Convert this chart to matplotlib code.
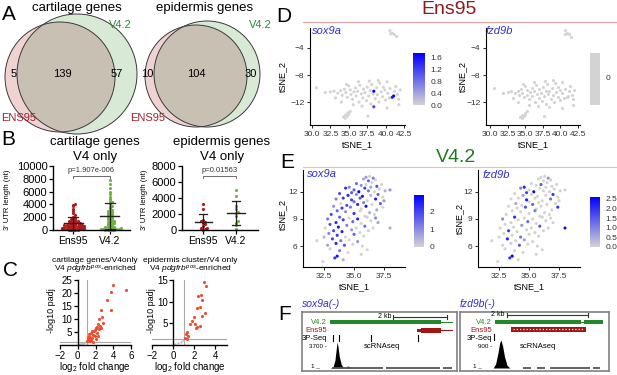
import numpy as np
import matplotlib
matplotlib.use('Agg')
import matplotlib.pyplot as plt
from matplotlib.patches import Circle, Rectangle
from matplotlib.colors import LinearSegmentedColormap

plt.rcParams['font.family'] = ['Liberation Sans', 'DejaVu Sans']
plt.rcParams['mathtext.fontset'] = 'custom'
plt.rcParams['mathtext.rm'] = 'Liberation Sans'
plt.rcParams['mathtext.it'] = 'Liberation Sans:italic'

# ---------------- data ----------------
# A: venn counts (Ens95 only, shared, V4.2 only)
venn_cart = [5, 139, 57]
venn_epi = [10, 104, 30]

# B: 3' UTR length (nt) of V4-only genes
cart_ens95 = [4100, 3900, 3700, 3300, 2900, 2600, 2300, 2100, 1900, 1800,
              1700, 1600, 1500, 1450, 1400, 1300, 1250, 1200, 1150, 1100,
              1050, 1000, 950, 900, 850, 800, 780, 750, 700, 680,
              650, 620, 600, 560, 520, 500, 470, 440, 400, 380,
              350, 320, 300, 270, 250, 220, 200, 180, 150, 120,
              100, 80, 60, 40, 30, 20, 10]
cart_v42 = [7800, 7200, 6600, 6000, 5600, 5200, 4900, 4600, 4400, 4200,
            4000, 3800, 3600, 3400, 3200, 3000, 2900, 2800, 2700, 2600,
            2500, 2400, 2300, 2200, 2100, 2000, 1900, 1800, 1700, 1600,
            1500, 1400, 1300, 1200, 1100, 1000, 900, 800, 700, 600,
            500, 450, 400, 350, 300, 250, 200, 150, 100, 80,
            60, 40, 20, 10, 5, 900, 1300]
epi_ens95 = [3200, 2600, 1300, 1100, 1000, 900, 700, 500, 300, 200, 100, 50]
epi_v42 = [5000, 4300, 3000, 2600, 2300, 2100, 1700, 1100, 900, 600, 100]
pval_cart = "p=1.907e-006"
pval_epi = "p=0.01563"

# C: volcano, V4 pdgfrb-pos enriched
cart_lfc = [5.4, 4.0, 3.7, 3.3, 3.7, 2.6, 2.7, 2.4, 2.9, 2.3,
            2.5, 2.2, 2.0, 2.1, 2.4, 1.9, 2.6, 1.6, 1.8, 2.2,
            1.5, 1.7, 1.3, 1.9, 1.4, 1.2, 1.6, 1.1, 2.0, 1.3,
            1.5, 1.0, 1.2, 1.4, 1.1, 1.7, 2.3]
cart_padj = [21.3, 23.1, 20.2, 17.2, 13.6, 13.5, 10.6, 9.9, 8.6, 8.2,
             7.2, 7.0, 6.6, 6.4, 6.0, 5.9, 6.7, 5.5, 5.2, 4.8,
             4.6, 4.0, 4.4, 3.6, 3.2, 3.0, 2.8, 2.5, 2.2, 2.0,
             1.8, 1.7, 1.5, 1.4, 2.6, 1.1, 3.3]
cart_ns_lfc = [0.1, 0.25, 0.4, 0.55, 0.7, 0.85]
cart_ns_padj = [0.1, 0.3, 0.5, 0.7, 0.9, 1.1]
epi_lfc = [2.95, 3.15, 2.6, 2.35, 2.7, 2.5, 2.25, 3.0, 2.0, 2.75,
           1.75, 1.55, 2.05, 2.3, 2.5, 1.35, 1.25, 1.4, 1.15, 1.3, 2.2]
epi_padj = [14.6, 13.6, 11.5, 11.2, 10.4, 8.8, 8.5, 7.4, 6.5, 6.6,
            5.5, 4.9, 4.8, 4.2, 4.5, 2.9, 2.6, 2.0, 1.6, 1.3, 3.9]
epi_ns_lfc = [0.2, 0.45, 0.7, 0.9]
epi_ns_padj = [0.2, 0.5, 0.8, 1.1]

# D: Ens95 tSNE
d_tsne1 = [30.6, 31.8, 32.5, 33.0,
           40.6, 40.9, 41.2, 41.5, 40.7,
           34.3, 34.6, 34.9, 35.2, 34.5, 34.8, 35.0,
           37.6, 41.8, 40.2,
           33.5, 33.9, 34.1, 34.4, 34.6, 34.8, 35.0, 35.2, 35.3, 35.5,
           35.7, 35.9, 36.0, 36.2, 36.4, 36.5, 36.7, 36.9, 37.0, 37.2,
           37.4, 37.5, 37.7, 37.9, 38.0, 38.1, 38.3, 38.6, 38.8, 38.9,
           39.1, 39.2, 39.4, 39.6, 39.7, 39.9, 40.0, 40.2, 40.3, 40.5,
           40.6, 41.2, 41.4, 41.6, 41.8, 42.0, 33.2, 34.0, 35.6, 36.8,
           37.8, 39.0, 36.3, 34.7,
           38.4, 40.9, 41.1, 38.4]
d_tsne2 = [-9.9, -10.6, -10.5, -10.4,
           -1.4, -1.8, -2.0, -2.3, -1.9,
           -14.2, -13.9, -13.6, -13.4, -14.4, -14.1, -13.8,
           -14.1, -12.4, -12.9,
           -10.7, -10.3, -11.0, -10.1, -10.6, -11.3, -9.6, -10.2, -10.9, -11.6,
           -10.5, -9.9, -11.1, -10.4, -12.0, -9.5, -10.8, -11.4, -10.1, -10.6,
           -11.8, -9.8, -11.1, -10.3, -12.3, -9.4, -10.8, -11.5, -9.9, -10.9,
           -12.0, -9.2, -10.5, -11.2, -9.8, -10.2, -11.7, -9.0, -10.7, -11.4,
           -10.0, -10.4, -9.7, -10.9, -11.6, -10.2, -11.4, -12.0, -12.4, -12.6,
           -8.9, -8.8, -9.0, -9.4,
           -10.4, -11.3, -11.1, -12.7]
d_sox9a = [0, 0, 0, 0,
           0, 0, 0, 0, 0,
           0, 0, 0, 0, 0, 0, 0,
           0, 0, 0,
           0, 0, 0, 0, 0, 0, 0, 0, 0, 0,
           0, 0, 0, 0, 0, 0, 0, 0, 0, 0,
           0, 0, 0, 0, 0, 0, 0, 0, 0, 0,
           0, 0, 0, 0, 0, 0, 0, 0, 0, 0,
           0, 0, 0, 0, 0, 0, 0, 0, 0, 0,
           0, 0, 0, 0,
           1.75, 1.5, 1.7, 1.2]
d_fzd9b_max = 0

# E: V4.2 tSNE
e_tsne1 = [36.0, 36.3, 36.6, 36.8, 36.2, 35.8, 36.5,
           35.2, 35.6, 36.0, 36.9, 37.3, 34.6, 35.9, 36.4, 37.1,
           34.3, 35.0, 35.4, 36.2, 36.7, 37.6, 38.0, 34.8,
           33.8, 34.5, 35.2, 35.7, 36.4, 37.0, 37.4, 34.1,
           33.5, 34.8, 35.5, 36.1, 36.8, 37.5, 35.0,
           33.9, 34.4, 35.3, 35.8, 36.5, 37.2, 33.3,
           34.0, 34.7, 35.6, 36.0, 36.9, 37.4, 33.6,
           34.3, 35.0, 35.5, 36.3, 36.7, 33.1, 35.9,
           33.8, 34.6, 35.3, 36.1, 36.8, 32.8, 34.1,
           33.5, 34.9, 35.6, 36.4, 37.0, 33.0,
           33.7, 34.4, 35.2, 35.9, 36.6, 38.0, 32.6,
           33.3, 34.0, 34.8, 35.5, 36.2, 32.9,
           33.6, 34.3, 35.0, 35.8, 32.5,
           33.2, 33.9, 34.6, 35.3, 31.9,
           33.5, 34.2, 34.9, 35.7, 32.8,
           33.0, 33.8, 34.5, 35.6, 36.1, 33.6, 33.4, 32.4, 34.1]
e_tsne2 = [13.6, 13.7, 13.5, 13.3, 13.2, 13.4, 13.0,
           12.9, 12.7, 12.8, 12.6, 12.8, 12.5, 12.4, 12.5, 12.3,
           12.4, 12.2, 12.0, 12.1, 12.0, 12.1, 12.2, 11.9,
           11.8, 11.6, 11.7, 11.5, 11.6, 11.7, 11.4, 11.3,
           11.2, 11.1, 11.3, 11.0, 11.2, 11.0, 10.9,
           10.7, 10.5, 10.6, 10.8, 10.6, 10.7, 10.4,
           10.2, 10.3, 10.1, 10.4, 10.0, 10.3, 9.9,
           9.8, 9.6, 9.9, 9.7, 9.5, 9.5, 9.3,
           9.2, 9.1, 9.0, 9.2, 9.1, 9.0, 8.9,
           8.6, 8.7, 8.5, 8.8, 8.6, 8.4,
           8.1, 8.3, 8.0, 8.2, 8.0, 8.0, 8.0,
           7.7, 7.6, 7.8, 7.5, 7.7, 7.4,
           7.2, 7.0, 7.3, 7.1, 7.0,
           6.8, 6.6, 6.7, 6.5, 6.6,
           6.3, 6.1, 6.2, 6.0, 6.1,
           5.7, 5.5, 5.3, 5.1, 5.6, 4.9, 4.7, 4.3, 4.5]
e_sox9a = [0.8, 0, 1.2, 0, 1.5, 0.6, 0,
           1.4, 0.9, 0, 1.8, 0, 1.1, 2.0, 0.7, 0,
           2.2, 1.6, 2.9, 1.3, 0, 0.5, 0.9, 1.7,
           1.9, 2.4, 1.0, 2.6, 0.4, 1.5, 0, 2.1,
           1.2, 2.0, 1.7, 0, 2.5, 0.8, 1.4,
           0, 1.8, 2.3, 1.1, 0, 1.6, 0.9,
           2.1, 1.3, 0, 2.7, 0.6, 0, 1.5,
           1.0, 2.2, 0, 0.5, 0, 1.9, 0,
           1.6, 0, 2.4, 0, 1.1, 1.3, 2.0,
           2.3, 1.5, 0, 0, 0.7, 1.8,
           2.6, 1.2, 0, 1.4, 0, 0.6, 0,
           1.9, 2.5, 0.8, 0, 0, 1.1,
           2.2, 0, 1.6, 0, 0.4,
           2.0, 1.3, 0, 0.9, 0,
           2.4, 1.8, 0, 0, 0.7,
           0, 1.2, 0, 0, 0, 2.6, 2.2, 0, 0.5]
e_fzd9b = [0, 0, 0.8, 0, 0, 0, 0,
           0, 0, 1.5, 0, 0, 2.2, 0, 0, 0,
           1.0, 0, 2.5, 0, 0, 0, 0, 1.8,
           0, 0.7, 0, 0, 0, 1.9, 0, 0,
           0, 2.3, 0, 0, 1.2, 0, 0,
           0.6, 0, 1.4, 0, 0, 0, 0,
           0, 1.7, 0, 0, 0, 2.0, 0,
           0, 0, 1.1, 0, 0, 0, 0,
           2.1, 0, 0, 0, 0, 0.9, 0,
           0, 1.3, 0, 0, 0, 0,
           0, 0.8, 0, 1.6, 0, 2.4, 0,
           1.9, 0, 0, 0, 0, 0,
           0, 1.2, 0, 0, 0,
           2.2, 0, 0.7, 0, 0,
           0, 1.5, 0, 0, 0,
           0, 0, 0, 0, 0, 2.6, 2.0, 0, 0]

# F: gene models (kb from left of window)
sox9a_scale = [3.37, 5.37]
sox9a_v42 = [1.04, 5.15]
sox9a_v42_tail = [5.15, 5.56]
sox9a_ens = [4.4, 5.15]
sox9a_ens_utr = [4.26, 4.4]
sox9a_ens_tail = [5.15, 5.56]
sox9a_3pseq = [1.15, 1.37, 2.56, 4.3]
sox9a_cov_pos = [1.05, 1.15, 1.22, 1.27, 1.30, 1.33, 1.38, 1.45, 1.52, 1.6, 1.66, 1.7, 1.74, 1.8]
sox9a_cov = [0, 0.05, 0.3, 0.75, 1.0, 0.85, 0.45, 0.15, 0.03, 0, 0.06, 0.08, 0.05, 0]
sox9a_base = [(1.1, 3.0), (3.11, 5.11), (5.22, 5.56)]
fzd9b_scale = [1.16, 3.16]
fzd9b_v42 = [(0.86, 2.99), (3.06, 3.53)]
fzd9b_ens = [1.26, 3.11]
fzd9b_3pseq = [0.84]
fzd9b_cov_pos = [0.82, 0.88, 0.94, 0.98, 1.01, 1.05, 1.1, 1.16, 1.23]
fzd9b_cov = [0, 0.15, 0.55, 0.9, 1.0, 0.8, 0.4, 0.1, 0]
fzd9b_base = [(1.56, 1.75), (1.9, 2.1), (2.22, 3.21), (3.28, 3.46)]

# ---------------- figure ----------------
W, H = 617, 375
fig = plt.figure(figsize=(W / 100, H / 100), dpi=100)


def px_axes(x0, y0, x1, y1):
    return fig.add_axes([x0 / W, 1 - y1 / H, (x1 - x0) / W, (y1 - y0) / H])


def ftext(x, y, s, **kw):
    kw.setdefault('ha', 'center')
    kw.setdefault('va', 'center')
    fig.text(x / W, 1 - y / H, s, **kw)


RED = '#a3202a'
GREEN = '#2e8b2e'
BLUE = '#2f2fd6'

# panel letters
for lab, x, y in [('A', 9, 15), ('B', 8, 140), ('C', 11, 271),
                  ('D', 284, 17), ('E', 287, 163), ('F', 285, 314)]:
    ftext(x, y, lab, fontsize=15)


# ---- A: venn ----
def venn(x0, counts, pink_c, pink_r, green_c, green_r, numx, title, title_x, v4xy, ensxy):
    ax = px_axes(x0, 0, x0 + 145, 140)
    ax.set_xlim(x0, x0 + 145)
    ax.set_ylim(140, 0)
    ax.axis('off')
    pink = Circle(pink_c, pink_r, fc='#efd3d3', ec='none')
    green = Circle(green_c, green_r, fc='#d8e9d6', ec='none')
    ax.add_patch(pink)
    ax.add_patch(green)
    inter = Circle(pink_c, pink_r, fc='#c9c0b4', ec='none')
    ax.add_patch(inter)
    inter.set_clip_path(green)
    for c, r in [(pink_c, pink_r), (green_c, green_r)]:
        ax.add_patch(Circle(c, r, fc='none', ec='#3a3a3a', lw=0.7))
    for n, x in zip(counts, numx):
        ax.text(x, 74, str(n), ha='center', va='center', fontsize=8)
    ax.text(v4xy[0], v4xy[1], 'V4.2', color=GREEN, fontsize=8, ha='center', va='center')
    ax.text(ensxy[0], ensxy[1], 'ENS95', color=RED, fontsize=8, ha='center', va='center')
    ftext(title_x, 8, title, fontsize=9.5)


venn(0, venn_cart, (60, 77), 55, (77, 74), 60, [14, 62, 117], 'cartilage genes', 77, (120, 25), (19, 118))
venn(140, venn_epi, (196, 76), 51, (207, 74), 53, [147, 196, 251], 'epidermis genes', 205, (260, 25), (148, 118))


# ---- B: 3'UTR dot plots ----
def swarm_x(vals, center, binw, step=0.06, maxw=0.3):
    vals = np.asarray(vals, float)
    xs = np.zeros(len(vals))
    counts = {}
    for i in np.argsort(vals):
        b = int(vals[i] // binw)
        k = counts.get(b, 0)
        counts[b] = k + 1
        off = ((k + 1) // 2) * step * (1 if k % 2 else -1)
        xs[i] = center + np.clip(off, -maxw, maxw)
    return xs


def dotplot(rect, groups, ymax, yticks, binw, pval, title, title_x, xlim):
    ax = px_axes(*rect)
    colors = ['#b3191c', '#6db33f']
    for i, vals in enumerate(groups):
        v = np.asarray(vals, float)
        ax.scatter(swarm_x(v, i, binw), v, s=5, color=colors[i], lw=0, clip_on=False, zorder=2)
        m, sd = v.mean(), v.std(ddof=1)
        ax.plot([i - 0.26, i + 0.26], [m, m], color='#222222', lw=1, zorder=3)
        ax.plot([i, i], [max(m - sd, 0), m + sd], color='#222222', lw=0.9, zorder=3)
        ax.plot([i - 0.13, i + 0.13], [m + sd, m + sd], color='#222222', lw=0.9, zorder=3)
        if m - sd > 0:
            ax.plot([i - 0.13, i + 0.13], [m - sd, m - sd], color='#222222', lw=0.9, zorder=3)
    ax.set_xlim(*xlim)
    ax.set_ylim(0, ymax)
    ax.set_yticks(yticks)
    ax.set_xticks([0, 1])
    ax.set_xticklabels(['Ens95', 'V4.2'], fontsize=7.5)
    ax.tick_params(axis='y', labelsize=8, length=3, width=0.9, pad=1)
    ax.tick_params(axis='x', length=3, width=0.9, pad=1)
    for s in ['top', 'right']:
        ax.spines[s].set_visible(False)
    for s in ['left', 'bottom']:
        ax.spines[s].set_linewidth(1)
    yb = ymax * 0.845
    ax.plot([0, 0, 1, 1], [yb - ymax * 0.03, yb, yb, yb - ymax * 0.03], color='#555555', lw=0.6, clip_on=False)
    ax.text(0.5, ymax * 0.935, pval, ha='center', va='center', fontsize=5.5, color='#333333', clip_on=False)
    ftext(title_x, 142, title, fontsize=9.5)
    ftext(title_x, 157, 'V4 only', fontsize=9.5)
    return ax


dotplot((53, 166, 130, 230), [cart_ens95, cart_v42], 10000,
        [0, 2000, 4000, 6000, 8000, 10000], 300, pval_cart, 'cartilage genes', 95, (-0.55, 1.55))
dotplot((182, 166, 258, 230), [epi_ens95, epi_v42], 8000,
        [0, 2000, 4000, 6000, 8000], 400, pval_epi, 'epidermis genes', 222, (-0.64, 1.67))
ftext(8, 200, "3' UTR length (nt)", fontsize=5.5, rotation=90)
ftext(144, 200, "3' UTR length (nt)", fontsize=5.5, rotation=90)


# ---- C: volcano ----
def volcano(rect, lfc, padj, ns_lfc, ns_padj, xlim, ylim, xticks, yticks, t1, tx, ylx):
    ax = px_axes(*rect)
    ax.axhline(-np.log10(0.05), color='#a8a8a8', lw=0.8, zorder=1)
    ax.axvline(1, color='#a8a8a8', lw=0.8, zorder=1)
    ax.scatter(ns_lfc, ns_padj, s=3, color='#c0c0c0', lw=0, clip_on=False, zorder=2)
    ax.scatter(lfc, padj, s=5, color='#f04b2c', lw=0, clip_on=False, zorder=3)
    ax.set_xlim(*xlim)
    ax.set_ylim(*ylim)
    ax.set_xticks(xticks)
    ax.set_yticks(yticks)
    ax.spines['left'].set_position(('data', 0))
    for s in ['top', 'right']:
        ax.spines[s].set_visible(False)
    for s in ['left', 'bottom']:
        ax.spines[s].set_linewidth(1)
    ax.tick_params(labelsize=7, length=3, width=0.9, pad=1)
    ftext(tx, 260, t1, fontsize=6)
    ftext(tx, 270, r'V4 $\it{pdgfrb}^{pos}$-enriched', fontsize=6)
    ftext(tx, 367, r'log$_2$ fold change', fontsize=7)
    ftext(ylx, 311, '-log10 padj', fontsize=6.5, rotation=90)


volcano((60, 280, 131, 345), cart_lfc, cart_padj, cart_ns_lfc, cart_ns_padj,
        (-2, 6), (0, 25), [-2, 0, 2, 4, 6], [5, 10, 15, 20, 25], 'cartilage genes/V4only', 95, 52)
volcano((152, 280, 227, 345), epi_lfc, epi_padj, epi_ns_lfc, epi_ns_padj,
        (-2, 5.1), (0, 15), [-2, 0, 2, 4], [5, 10, 15], 'epidermis cluster/V4 only', 190, 151)

# ---- D / E: tSNE feature plots ----
feat_cmap = LinearSegmentedColormap.from_list('feat', ['#d3d3d3', '#0000ff'])


def tsne_ax(rect, xlim, ylim, xticks, yticks):
    ax = px_axes(*rect)
    ax.set_xlim(*xlim)
    ax.set_ylim(*ylim)
    ax.set_xticks(xticks)
    ax.set_xticklabels(['{:.1f}'.format(t) for t in xticks])
    ax.set_yticks(yticks)
    for s in ['top', 'right']:
        ax.spines[s].set_visible(False)
    for s in ['left', 'bottom']:
        ax.spines[s].set_linewidth(0.8)
    ax.tick_params(labelsize=6, length=2.5, width=0.6, pad=1.5, labelcolor='#333333')
    return ax


def feature(ax, x, y, vals, vmax):
    x, y, v = np.asarray(x), np.asarray(y), np.asarray(vals, float)
    o = np.argsort(v, kind='stable')
    return ax.scatter(x[o], y[o], c=v[o], cmap=feat_cmap, vmin=0, vmax=vmax, s=5, lw=0)


def cbar(sc, rect, ticks, labels):
    cax = px_axes(*rect)
    cb = fig.colorbar(sc, cax=cax)
    cb.outline.set_visible(False)
    cb.set_ticks(ticks)
    cb.set_ticklabels(labels)
    cax.tick_params(length=0, labelsize=6, pad=4, labelcolor='#333333')


# headers
ftext(449, 10, 'Ens95', fontsize=14, color='#8e1b1b')
fig.add_artist(plt.Line2D([303 / W, 1], [1 - 22 / H, 1 - 22 / H], color='#dba3a3', lw=0.8))
ftext(456, 157, 'V4.2', fontsize=14, color='#1f7a1f')
fig.add_artist(plt.Line2D([303 / W, 1], [1 - 167 / H, 1 - 167 / H], color='#b8d9b4', lw=0.8))

d_xt = [30.0, 32.5, 35.0, 37.5, 40.0, 42.5]
axd1 = tsne_ax((310, 28, 405, 125), (29.73, 42.64), (-15.4, -1.04), d_xt, [-12, -8, -4])
sc = feature(axd1, d_tsne1, d_tsne2, d_sox9a, max(d_sox9a))
cbar(sc, (413, 53, 425, 105), [0, 0.4, 0.8, 1.2, 1.6], ['0.0', '0.4', '0.8', '1.2', '1.6'])
axd2 = tsne_ax((486, 28, 580, 125), (29.4, 42.8), (-15.4, -1.04), d_xt, [-12, -8, -4])
axd2.scatter(d_tsne1, d_tsne2, s=5, lw=0, color='#d3d3d3')
cax = px_axes(590, 53, 600, 105)
cax.set_facecolor('#d3d3d3')
cax.set_xticks([])
cax.set_yticks([])
for s in cax.spines.values():
    s.set_visible(False)
ftext(608, 79, str(d_fzd9b_max), fontsize=6, color='#333333')

e_xt = [32.5, 35.0, 37.5]
axe1 = tsne_ax((303, 170, 405, 267), (30.75, 39.25), (3.7, 14.4), e_xt, [6, 9, 12])
sc = feature(axe1, e_tsne1, e_tsne2, e_sox9a, max(e_sox9a))
cbar(sc, (414, 195, 424, 247), [0, 1, 2], ['0', '1', '2'])
axe2 = tsne_ax((478, 170, 580, 267), (30.75, 39.25), (3.7, 14.4), e_xt, [6, 9, 12])
sc = feature(axe2, e_tsne1, e_tsne2, e_fzd9b, max(e_fzd9b))
cbar(sc, (590, 197, 600, 247), [0, 0.5, 1.0, 1.5, 2.0, 2.5], ['0.0', '0.5', '1.0', '1.5', '2.0', '2.5'])

for x, y in [(357, 145), (533, 145), (354, 287), (529, 287)]:
    ftext(x, y, 'tSNE_1', fontsize=6.5)
for x, y in [(283, 76), (463, 76), (283, 215), (460, 218)]:
    ftext(x, y, 'tSNE_2', fontsize=6.5, rotation=90)
for x, y, g in [(312, 31, 'sox9a'), (486, 31, 'fzd9b'), (307, 174, 'sox9a'), (483, 175, 'fzd9b')]:
    ftext(x, y, g, fontsize=8, style='italic', color=BLUE, ha='left')

# ---- F: gene tracks ----
GR = '#22882a'
RD = '#a31515'


def track_box(rect, width_kb):
    ax = px_axes(*rect)
    ax.set_xlim(0, width_kb)
    ax.set_ylim(59, 0)
    ax.set_xticks([])
    ax.set_yticks([])
    for s in ax.spines.values():
        s.set_color('#808080')
        s.set_linewidth(1.2)
    return ax


def common(ax, scale, sy, labx, cov_pos, cov, base, top, cov_label, scx):
    ax.plot(scale, [sy, sy], color='#333333', lw=0.8)
    for x in scale:
        ax.plot([x, x], [sy - 2, sy + 2], color='#333333', lw=0.8)
    ax.text(scale[0] - 0.06, sy, '2 kb', ha='right', va='center', fontsize=5)
    ax.text(labx, 10, 'V4.2', ha='right', va='center', fontsize=5.5, color=GR)
    ax.text(labx, 18, 'Ens95', ha='right', va='center', fontsize=5.5, color=RD)
    ax.text(labx, 26, '3P-Seq', ha='right', va='center', fontsize=5.5)
    ax.text(labx, 35, cov_label + ' -', ha='right', va='center', fontsize=4.5)
    ax.text(labx * 0.55, 54, '1 _', ha='center', va='center', fontsize=4.5)
    ax.text(scx, 35, 'scRNAseq', ha='center', va='center', fontsize=5.5)
    y = 56 - np.asarray(cov) * (56 - top)
    ax.fill_between(cov_pos, 56, y, color='black', lw=0)
    for a, b in base:
        ax.plot([a, b], [56.3, 56.3], color='#555555', lw=1.3, solid_capstyle='butt')


fl = track_box((302, 312, 457, 371), 5.74)
common(fl, sox9a_scale, 5, 0.93, sox9a_cov_pos, sox9a_cov, sox9a_base, 30, '3700', 2.96)
fl.add_patch(Rectangle((sox9a_v42[0], 8), sox9a_v42[1] - sox9a_v42[0], 4, color=GR, lw=0))
fl.plot(sox9a_v42_tail, [10, 10], color=GR, lw=0.8)
fl.add_patch(Rectangle((sox9a_ens[0], 15.5), sox9a_ens[1] - sox9a_ens[0], 5, color=RD, lw=0))
fl.add_patch(Rectangle((sox9a_ens_utr[0], 16.5), sox9a_ens_utr[1] - sox9a_ens_utr[0], 3, color=RD, lw=0))
fl.plot(sox9a_ens_tail, [18, 18], color=RD, lw=0.8)
for x in sox9a_3pseq:
    fl.plot([x, x], [23, 29], color='black', lw=0.8)

fr = track_box((460, 312, 609, 371), 3.68)
common(fr, fzd9b_scale, 3, 0.79, fzd9b_cov_pos, fzd9b_cov, fzd9b_base, 28, '900', 1.93)
for a, b in fzd9b_v42:
    fr.add_patch(Rectangle((a, 8), b - a, 4, color=GR, lw=0))
fr.plot([fzd9b_v42[0][1], fzd9b_v42[1][0]], [10, 10], color=GR, lw=0.8)
fr.add_patch(Rectangle((fzd9b_ens[0], 14.5), fzd9b_ens[1] - fzd9b_ens[0], 5.5, color=RD, lw=0))
fr.plot([fzd9b_ens[0] + 0.05, fzd9b_ens[1] - 0.05], [17.25, 17.25], color='white', lw=0.9, ls=(0, (1, 1.6)))
for x in fzd9b_3pseq:
    fr.plot([x, x], [22, 28], color='black', lw=0.8)

ftext(302, 304, 'sox9a(-)', fontsize=7.5, style='italic', color=BLUE, ha='left')
ftext(460, 304, 'fzd9b(-)', fontsize=7.5, style='italic', color=BLUE, ha='left')

fig.savefig('out.png', dpi=100)
